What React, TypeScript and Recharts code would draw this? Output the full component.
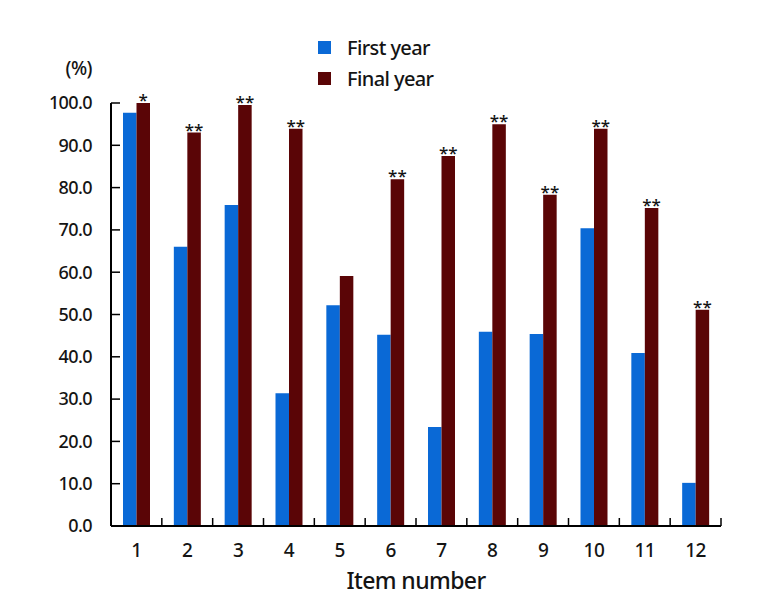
import React from 'react';
import { BarChart, Bar, XAxis, YAxis, Legend, LabelList, Label } from 'recharts';

const items = ['1', '2', '3', '4', '5', '6', '7', '8', '9', '10', '11', '12'];
const firstYear = [97.7, 66.0, 75.9, 31.4, 52.2, 45.2, 23.4, 45.9, 45.4, 70.4, 40.9, 10.2];
const finalYear = [100, 93.0, 99.5, 93.9, 59.1, 82.0, 87.5, 95.0, 78.3, 93.9, 75.2, 51.1];
const significance = ['*', '**', '**', '**', '', '**', '**', '**', '**', '**', '**', '**'];
const yTicks = [0, 10, 20, 30, 40, 50, 60, 70, 80, 90, 100];

const BLUE = '#0a69d6';
const RED = '#5a0506';
const TEXT = '#141414';
const FONT = '"Noto Sans", sans-serif';

const data = items.map((item, i) => ({
  item,
  first: firstYear[i],
  final: finalYear[i],
  sig: significance[i],
}));

const XTick = (props: any) => {
  const { x, y, payload, index } = props;
  const half = payload && typeof payload.offset === 'number' ? payload.offset : 610 / 24;
  return (
    <g>
      {index > 0 && (
        <line x1={x - half} x2={x - half} y1={y} y2={y - 8} stroke="#000" strokeWidth={1.5} />
      )}
      {index === items.length - 1 && (
        <line x1={x + half} x2={x + half} y1={y} y2={y - 8} stroke="#000" strokeWidth={1.5} />
      )}
      <text
        x={x}
        y={y + 31}
        textAnchor="middle"
        fill={TEXT}
        fontSize={19}
        fontWeight={500}
        letterSpacing={-0.5}
        fontFamily={FONT}
      >
        {payload.value}
      </text>
    </g>
  );
};

const StarLabel = (props: any) => {
  const { x, y, width, value } = props;
  if (!value) return null;
  return (
    <text
      x={x + width / 2}
      y={y + 3}
      textAnchor="middle"
      fill={TEXT}
      fontSize={17}
      fontWeight={500}
      fontFamily={FONT}
    >
      {value}
    </text>
  );
};

const LegendContent = () => {
  const entries = [
    { label: 'First year', color: BLUE },
    { label: 'Final year', color: RED },
  ];
  return (
    <div style={{ fontFamily: FONT, fontSize: 20, fontWeight: 500, letterSpacing: -0.6, color: TEXT }}>
      {entries.map((e) => (
        <div key={e.label} style={{ display: 'flex', alignItems: 'center', height: 31 }}>
          <span style={{ display: 'inline-block', width: 13, height: 13, background: e.color, marginRight: 16 }} />
          <span style={{ lineHeight: '31px' }}>{e.label}</span>
        </div>
      ))}
    </div>
  );
};

export default function App() {
  return (
    <div style={{ position: 'absolute', left: 0, top: 0, width: 771, height: 606, background: '#fff' }}>
      <BarChart
        width={771}
        height={606}
        data={data}
        margin={{ top: 103, right: 50, bottom: 0, left: 0 }}
        barGap={0}
        barSize={13.5}
      >
        <XAxis
          dataKey="item"
          type="category"
          height={80}
          tickSize={0}
          tickMargin={0}
          tick={<XTick />}
          axisLine={{ stroke: '#000', strokeWidth: 2 }}
          tickLine={false}
          interval={0}
        >
          <Label
            value="Item number"
            position="insideBottom"
            offset={17}
            style={{ fontSize: 23, fontWeight: 500, letterSpacing: -0.6, fontFamily: FONT, fill: TEXT }}
          />
        </XAxis>
        <YAxis
          width={111}
          domain={[0, 100]}
          ticks={yTicks}
          tickFormatter={(v: number) => v.toFixed(1)}
          tickSize={-9}
          tickMargin={28}
          axisLine={{ stroke: '#000', strokeWidth: 2 }}
          tickLine={{ stroke: '#000', strokeWidth: 1.5 }}
          tick={{ fontSize: 18, fontWeight: 500, letterSpacing: -0.6, fontFamily: FONT, fill: TEXT }}
          interval={0}
        >
          <Label
            value="(%)"
            position="insideTopLeft"
            content={(p: any) => {
              const vb = p.viewBox || {};
              return (
                <text
                  x={(vb.x || 0) + 92}
                  y={(vb.y || 0) - 28}
                  textAnchor="end"
                  fill={TEXT}
                  fontSize={19}
                  fontWeight={500}
                  letterSpacing={-0.5}
                  fontFamily={FONT}
                >
                  (%)
                </text>
              );
            }}
          />
        </YAxis>
        <Legend
          layout="vertical"
          align="center"
          verticalAlign="middle"
          content={<LegendContent />}
          wrapperStyle={{ left: 318, top: 32, width: 160 }}
        />
        <Bar dataKey="first" name="First year" fill={BLUE} isAnimationActive={false} />
        <Bar dataKey="final" name="Final year" fill={RED} isAnimationActive={false}>
          <LabelList dataKey="sig" content={<StarLabel />} />
        </Bar>
      </BarChart>
    </div>
  );
}
